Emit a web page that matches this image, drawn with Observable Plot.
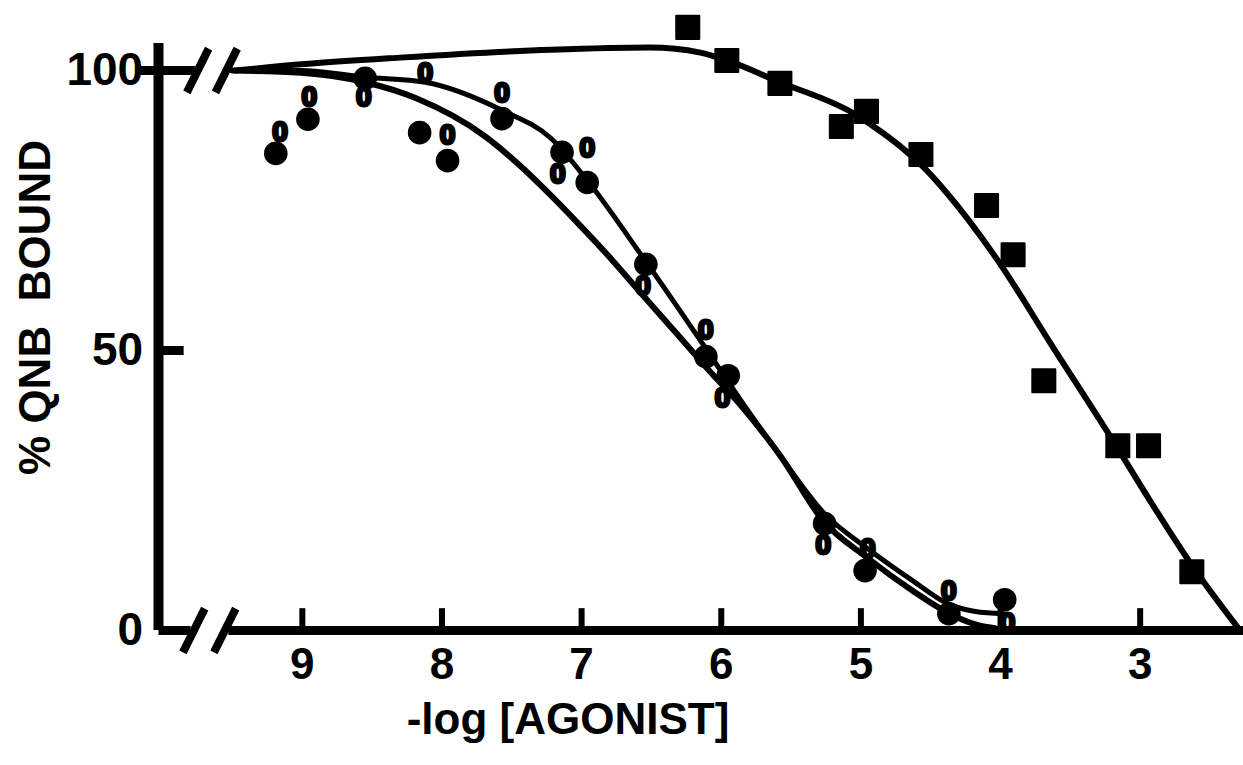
<!DOCTYPE html>
<html><head><meta charset="utf-8">
<script src="https://cdn.jsdelivr.net/npm/d3@7"></script>
<script src="https://cdn.jsdelivr.net/npm/@observablehq/plot@0.6"></script>
<style>body{margin:0;background:#fff}</style>
</head><body><div id="chart"></div>
<script>
// -log [agonist] positions and % QNB bound values
const filledX = [9.19, 8.96, 8.55, 8.16, 7.96, 7.57, 7.14, 6.96, 6.54, 6.11, 5.95, 5.26, 4.97, 4.37, 3.97];
const filledY = [85.2, 91.3, 98.6, 88.9, 83.9, 91.4, 85.4, 80.0, 65.4, 48.9, 45.5, 19.1, 10.7, 3.0, 5.5];
const openX   = [9.16, 8.95, 8.56, 8.12, 7.96, 7.57, 7.17, 6.96, 6.56, 6.11, 5.99, 5.27, 4.95, 4.37, 3.95];
const openY   = [89.1, 95.2, 95.2, 99.5, 88.4, 95.9, 81.6, 86.1, 61.6, 53.6, 41.6, 15.2, 14.6, 7.1, 1.4];
const squareX = [6.24, 5.96, 5.58, 5.14, 4.96, 4.57, 4.10, 3.91, 3.69, 3.16, 2.94, 2.63];
const squareY = [107.7, 101.8, 97.7, 90.0, 92.7, 85.0, 75.9, 67.1, 44.6, 33.0, 33.0, 10.5];

// fitted curves
const curveAX = [9.50, 9.01, 8.55, 8.12, 7.57, 7.22, 6.96, 6.58, 6.15, 5.86, 5.58, 5.27, 4.95, 4.63, 4.38, 4.18, 3.98];
const curveAY = [100, 100, 98.8, 97.9, 92.9, 87.9, 80.4, 67.3, 51.8, 41.1, 31.3, 21.1, 14.6, 8.9, 4.8, 3.4, 3.0];
const curveBX = [9.50, 9.01, 8.55, 8.18, 7.70, 7.44, 7.22, 7.01, 6.79, 6.58, 6.34, 6.10, 5.86, 5.58, 5.27, 4.95, 4.63, 4.38, 4.18, 4.04];
const curveBY = [100, 99.6, 97.9, 95.0, 88.4, 83.0, 77.7, 72.3, 66.4, 60.4, 53.6, 46.8, 40.2, 31.3, 19.6, 12.9, 7.1, 3.2, 1.1, 0.4];
const curveSX = [9.48, 9.01, 8.30, 7.22, 6.51, 6.15, 5.96, 5.58, 5.05, 4.84, 4.70, 4.55, 4.38, 4.02, 3.64, 3.21, 2.93, 2.62, 2.30];
const curveSY = [100, 101.1, 102.3, 103.7, 104.1, 103.2, 101.8, 97.9, 92.3, 88.8, 86.1, 82.7, 78.0, 66.1, 51.2, 34.5, 23.2, 11.3, 0.5];

const xTicks = [9, 8, 7, 6, 5, 4, 3];
const yTicks = [0, 50, 100];
const xLabel = "-log [AGONIST]";
const yLabel = "% QNB  BOUND";

const xMin = 10.03, xMax = 2.26;
const pts = (xs, ys) => xs.map((x, i) => ({x, y: ys[i]}));

// axis pieces (break marks) in data units
const axisSegments = [
  {x1: xMin, y1: 0, x2: 9.80, y2: 0},
  {x1: 9.53, y1: 0, x2: xMax, y2: 0},
  {x1: 10.17, y1: 100, x2: 9.77, y2: 100},
  {x1: xMin, y1: 50, x2: 9.85, y2: 50}
];
const breakMarks = [
  {x: 9.749, y: 100}, {x: 9.544, y: 100},
  {x: 9.777, y: 0}, {x: 9.555, y: 0}
];

const font = "'Liberation Sans', Arial, Helvetica, sans-serif";

const chart = Plot.plot({
  width: 1243, height: 765,
  marginLeft: 158, marginRight: 0, marginTop: 70, marginBottom: 135,
  x: {domain: [xMin, xMax], axis: null},
  y: {domain: [0, 100], axis: null},
  style: {fontFamily: font, background: "#fff", color: "#000"},
  marks: [
    Plot.ruleX([xMin], {y1: 0, y2: 104.8, stroke: "#000", strokeWidth: 10}),
    Plot.link(axisSegments, {x1: "x1", y1: "y1", x2: "x2", y2: "y2", stroke: "#000", strokeWidth: 9}),
    Plot.link(breakMarks, {x1: d => d.x + 0.078, y1: d => d.y - 3.9, x2: d => d.x - 0.078, y2: d => d.y + 3.9, stroke: "#000", strokeWidth: 8}),
    Plot.ruleX(xTicks, {y1: 0, y2: 3.9, stroke: "#000", strokeWidth: 6}),
    Plot.text(xTicks, {x: d => d, y: -6.2, text: d => String(d), fontSize: 44, fontWeight: "bold", fill: "#000"}),
    Plot.text(yTicks, {x: 10.14, y: d => d, text: d => String(d), textAnchor: "end", fontSize: 46, fontWeight: "bold", fill: "#000"}),
    Plot.text([xLabel], {frameAnchor: "bottom", lineAnchor: "middle", textAnchor: "middle", dx: -133, dy: 89, fontSize: 44, fontWeight: "bold", fill: "#000"}),
    Plot.text([yLabel], {frameAnchor: "left", lineAnchor: "middle", textAnchor: "middle", rotate: -90, dx: -123, dy: -43, fontSize: 44, fontWeight: "bold", fill: "#000"}),
    Plot.line(pts(curveSX, curveSY), {x: "x", y: "y", curve: "monotone-x", stroke: "#000", strokeWidth: 6}),
    Plot.line(pts(curveAX, curveAY), {x: "x", y: "y", curve: "monotone-x", stroke: "#000", strokeWidth: 5}),
    Plot.line(pts(curveBX, curveBY), {x: "x", y: "y", curve: "monotone-x", stroke: "#000", strokeWidth: 6}),
    Plot.dot(pts(squareX, squareY), {x: "x", y: "y", symbol: "square", r: 13, fill: "#000", stroke: "#000", strokeWidth: 2, strokeLinejoin: "round"}),
    Plot.dot(pts(filledX, filledY), {x: "x", y: "y", r: 11.8, fill: "#000"}),
    Plot.text(pts(openX, openY), {x: "x", y: "y", text: () => "0", fontSize: 28, fontWeight: "bold", fill: "#000", stroke: "#000", strokeWidth: 3})
  ]
});
document.getElementById("chart").appendChild(chart);
</script>
</body></html>
